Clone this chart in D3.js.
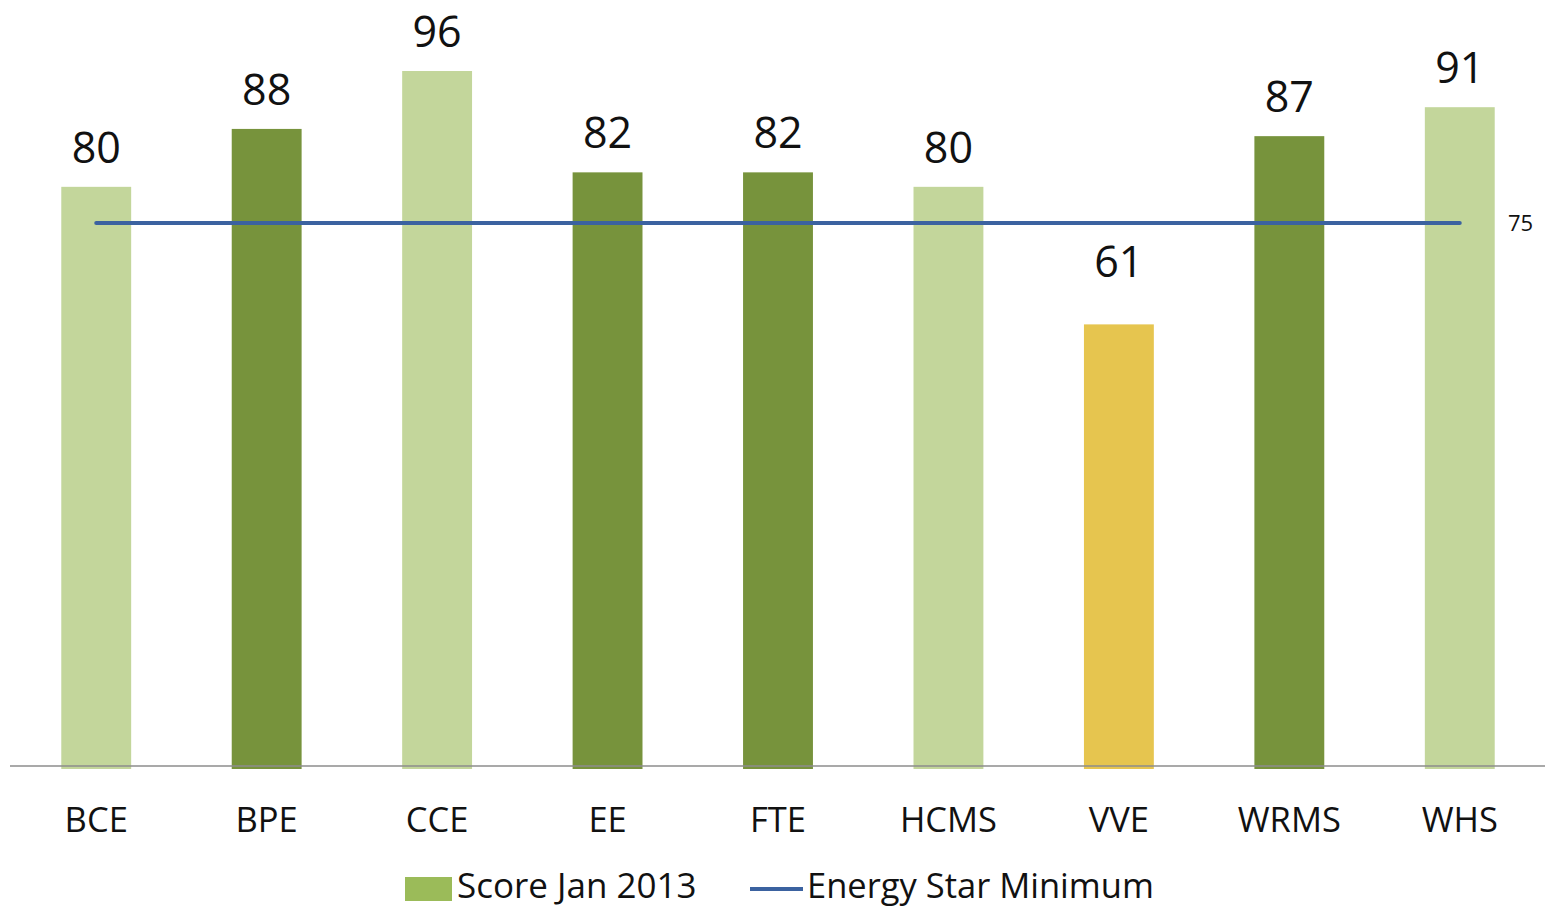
<!DOCTYPE html>
<html>
<head>
<meta charset="utf-8">
<script src="https://cdn.jsdelivr.net/npm/d3@7"></script>
<style>
  body { margin: 0; background: #fff; }
  text { font-family: "Open Sans", sans-serif; fill: #111; }
</style>
</head>
<body>
<svg id="chart" width="1547" height="908"></svg>
<script>
// data
const categories = ["BCE", "BPE", "CCE", "EE", "FTE", "HCMS", "VVE", "WRMS", "WHS"];
const scores = [80, 88, 96, 82, 82, 80, 61, 87, 91];
const shades = ["light", "dark", "light", "dark", "dark", "light", "warn", "dark", "light"];
const minimum = 75;
const legendLabels = ["Score Jan 2013", "Energy Star Minimum"];

const colors = { light: "#c3d69b", dark: "#77933c", warn: "#e6c54f" };
// the VVE label sits higher above its bar in the original
const labelGap = { VVE: 47 };

const width = 1547, height = 908;
const margin = { top: 71, right: 2, bottom: 142, left: 11 };

const svg = d3.select("#chart");

const x = d3.scaleBand()
  .domain(categories)
  .range([margin.left, width - margin.right])
  .paddingInner(0.59)
  .paddingOuter(0.295);

const y = d3.scaleLinear()
  .domain([0, 96])
  .range([height - margin.bottom, margin.top]);

const data = categories.map((c, i) => ({ cat: c, value: scores[i], shade: shades[i] }));

// bars (run a touch below the axis like the original)
svg.selectAll(".bar")
  .data(data)
  .enter()
  .append("rect")
  .attr("class", "bar")
  .attr("x", d => x(d.cat))
  .attr("width", x.bandwidth())
  .attr("y", d => y(d.value))
  .attr("height", d => y(0) - y(d.value) + 3)
  .attr("fill", d => colors[d.shade]);

// x axis line
svg.append("line")
  .attr("x1", 10)
  .attr("x2", width - 2)
  .attr("y1", y(0))
  .attr("y2", y(0))
  .attr("stroke", "#8c8c8c")
  .attr("stroke-width", 1.5);

// category labels
svg.selectAll(".cat")
  .data(data)
  .enter()
  .append("text")
  .attr("class", "cat")
  .attr("x", d => x(d.cat) + x.bandwidth() / 2)
  .attr("y", y(0) + 66)
  .attr("text-anchor", "middle")
  .style("font-size", "34.5px")
  .text(d => d.cat);

// value labels
svg.selectAll(".val")
  .data(data)
  .enter()
  .append("text")
  .attr("class", "val")
  .attr("x", d => x(d.cat) + x.bandwidth() / 2)
  .attr("y", d => y(d.value) - (labelGap[d.cat] || 24))
  .attr("text-anchor", "middle")
  .style("font-size", "43px")
  .text(d => d.value);

// energy star minimum line
const first = categories[0], last = categories[categories.length - 1];
svg.append("line")
  .attr("x1", x(first) + x.bandwidth() / 2)
  .attr("x2", x(last) + x.bandwidth() / 2)
  .attr("y1", y(minimum))
  .attr("y2", y(minimum))
  .attr("stroke", "#3b62a0")
  .attr("stroke-width", 4)
  .attr("stroke-linecap", "round");

svg.append("text")
  .attr("x", 1508)
  .attr("y", y(minimum) + 8)
  .style("font-size", "22px")
  .text(minimum);

// legend
const lg = svg.append("g").attr("transform", "translate(405,898)");
lg.append("rect")
  .attr("x", 0).attr("y", -21)
  .attr("width", 47).attr("height", 24)
  .attr("fill", "#9bbb59");
lg.append("text")
  .attr("x", 52).attr("y", 0)
  .style("font-size", "35px")
  .text(legendLabels[0]);
lg.append("line")
  .attr("x1", 345).attr("x2", 398)
  .attr("y1", -9).attr("y2", -9)
  .attr("stroke", "#3b62a0")
  .attr("stroke-width", 4);
lg.append("text")
  .attr("x", 402).attr("y", 0)
  .style("font-size", "34.5px")
  .text(legendLabels[1]);
</script>
</body>
</html>
